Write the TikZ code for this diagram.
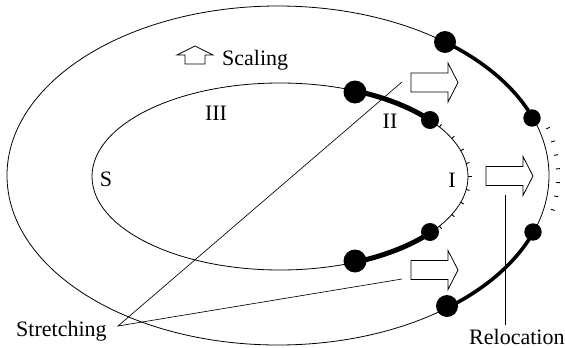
\documentclass[tikz,border=0pt]{standalone}
\usepackage{fontspec}
\setmainfont{Liberation Serif}
\begin{document}
\begin{tikzpicture}[x=1pt,y=-1pt,
  outline/.style={line width=0.8pt},
  heavyarc/.style={line width=5pt},
  outerarc/.style={line width=3.6pt},
  leader/.style={line width=0.65pt},
  tick/.style={line width=0.9pt},
  bigdot/.style={fill=black,draw=none},
  lbl/.style={inner sep=0pt,font=\fontsize{22}{26}\selectfont},
  blockline/.style={line width=0.8pt,fill=white,line join=miter},
  harrow/.pic={\draw[blockline] (0,-9.5) -- (37,-9.5) -- (37,-19.5) -- (47,0)
      -- (37,19.5) -- (37,9.5) -- (0,9.5) -- cycle;},
  uarrow/.pic={\draw[blockline] (-10,0) -- (-10,-9) -- (-18,-9) -- (0,-18)
      -- (18,-9) -- (10,-9) -- (10,0) -- cycle;}]
\useasboundingbox (0,0) rectangle (565,348);

% the two regions
\draw[outline] (278,175.5) ellipse [x radius=271, y radius=169.5];
\draw[outline] (280,176.5) ellipse [x radius=188, y radius=93.5];

% inner boundary: stretched parts (thick) and the part with ticks
\draw[heavyarc] plot[domain=-66:-37,samples=30,smooth]
  ({280+188*cos(\x)},{176.5+93.5*sin(\x)});
\draw[heavyarc] plot[domain=37:65,samples=30,smooth]
  ({280+188*cos(\x)},{176.5+93.5*sin(\x)});
\foreach \t in {-32,-24,...,32} {
  \pgfmathsetmacro\nx{cos(\t)*93.5}
  \pgfmathsetmacro\ny{sin(\t)*188}
  \pgfmathsetmacro\nn{veclen(\nx,\ny)}
  \pgfmathsetmacro\px{280+188*cos(\t)}
  \pgfmathsetmacro\py{176.5+93.5*sin(\t)}
  \draw[tick] (\px,\py) -- ++({3.5*\nx/\nn},{3.5*\ny/\nn});
}

% outer boundary: stretched parts and relocated ticks
\draw[outerarc] plot[domain=-52:-20,samples=30,smooth]
  ({278+271*cos(\x)},{175.5+169.5*sin(\x)});
\draw[outerarc] plot[domain=20:51,samples=30,smooth]
  ({278+271*cos(\x)},{175.5+169.5*sin(\x)});
\foreach \t in {-15,-10.7,...,15} {
  \pgfmathsetmacro\nx{cos(\t)*169.5}
  \pgfmathsetmacro\ny{sin(\t)*271}
  \pgfmathsetmacro\nn{veclen(\nx,\ny)}
  \pgfmathsetmacro\px{278+271*cos(\t)+7*\nx/\nn}
  \pgfmathsetmacro\py{175.5+169.5*sin(\t)+7*\ny/\nn}
  \draw[tick] (\px,\py) -- ++({4*\nx/\nn},{4*\ny/\nn});
}

% end points of the arcs
\fill[bigdot] (355,92) circle[radius=11.5pt];
\fill[bigdot] (355,261) circle[radius=11.5pt];
\fill[bigdot] (430,120) circle[radius=9pt];
\fill[bigdot] (430,232) circle[radius=9pt];
\fill[bigdot] (445,42) circle[radius=11pt];
\fill[bigdot] (447,306) circle[radius=11pt];
\fill[bigdot] (532,118) circle[radius=8.7pt];
\fill[bigdot] (533,232) circle[radius=8.7pt];

% block arrows
\pic at (411,82.5) {harrow};
\pic at (486,176) {harrow};
\pic at (411,270) {harrow};
\pic at (195,64) {uarrow};

% labels
\node[lbl,anchor=base west] (scaling) at (222,65) {Scaling};
\node[lbl,anchor=base] (rIII) at (216,120) {III};
\node[lbl,anchor=base] (rII) at (390,128) {II};
\node[lbl,anchor=base] (rI) at (452,187) {I};
\node[lbl,anchor=base] (rS) at (106,186) {S};
\node[lbl,anchor=base west] (stretch) at (16,336) {Stretching};
\node[lbl,anchor=base west] (reloc) at (469,344) {Relocation};

% leader lines
\coordinate (sapex) at (118,326);
\coordinate (supper) at (402,82);
\coordinate (slower) at (402,279);
\coordinate (rtop) at (505,195);
\coordinate (rbot) at (505,325);
\draw[leader] (supper) -- (sapex) -- (slower);
\draw[leader] (rtop) -- (rbot);
\end{tikzpicture}
\end{document}
